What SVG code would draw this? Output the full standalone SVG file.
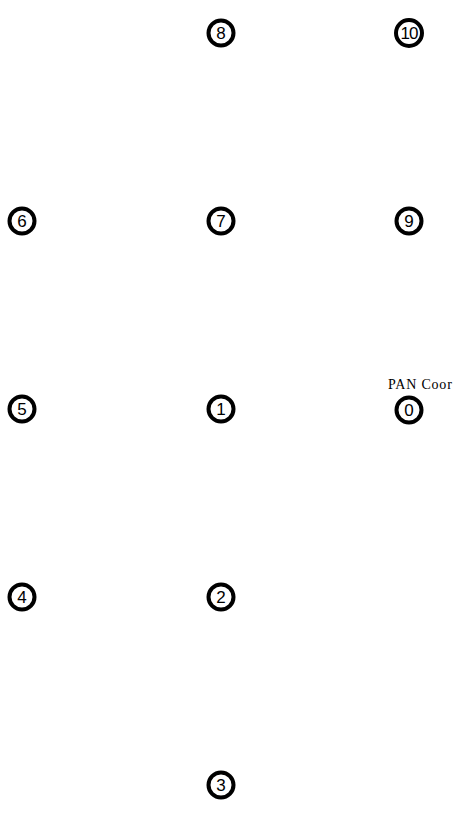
<svg xmlns="http://www.w3.org/2000/svg" width="460" height="819" viewBox="0 0 460 819">
<style>
.n circle{fill:#fff;stroke:#000;stroke-width:4}
.n text{font-family:"Liberation Sans",Arial,sans-serif;font-size:17px;text-anchor:middle;fill:#000}
.n text.lbl{font-family:"Liberation Serif","Times New Roman",serif;font-size:14px;text-anchor:start;letter-spacing:0.8px}
</style>
<rect width="460" height="819" fill="#fff"/>
<g id="connectors"></g>
<g id="node8" class="n"><circle cx="221" cy="33" r="12.5"/><text x="221" y="39">8</text></g>
<g id="node10" class="n"><circle cx="409" cy="33" r="13"/><text x="409" y="39" style="letter-spacing:-1px">10</text></g>
<g id="node6" class="n"><circle cx="22" cy="221" r="12.5"/><text x="22" y="227">6</text></g>
<g id="node7" class="n"><circle cx="221" cy="221" r="12.5"/><text x="221" y="227">7</text></g>
<g id="node9" class="n"><circle cx="409" cy="221" r="12.5"/><text x="409" y="227">9</text></g>
<g id="node5" class="n"><circle cx="22" cy="409" r="12.5"/><text x="22" y="415">5</text></g>
<g id="node1" class="n"><circle cx="221" cy="409" r="12.5"/><text x="221" y="415">1</text></g>
<g id="node0" class="n"><circle cx="409" cy="410" r="12.5"/><text x="409" y="416">0</text><text class="lbl" x="388" y="389">PAN Coor</text></g>
<g id="node4" class="n"><circle cx="22" cy="597" r="12.5"/><text x="22" y="603">4</text></g>
<g id="node2" class="n"><circle cx="221" cy="597" r="12.5"/><text x="221" y="603">2</text></g>
<g id="node3" class="n"><circle cx="221" cy="785" r="12.5"/><text x="221" y="791">3</text></g>
</svg>
